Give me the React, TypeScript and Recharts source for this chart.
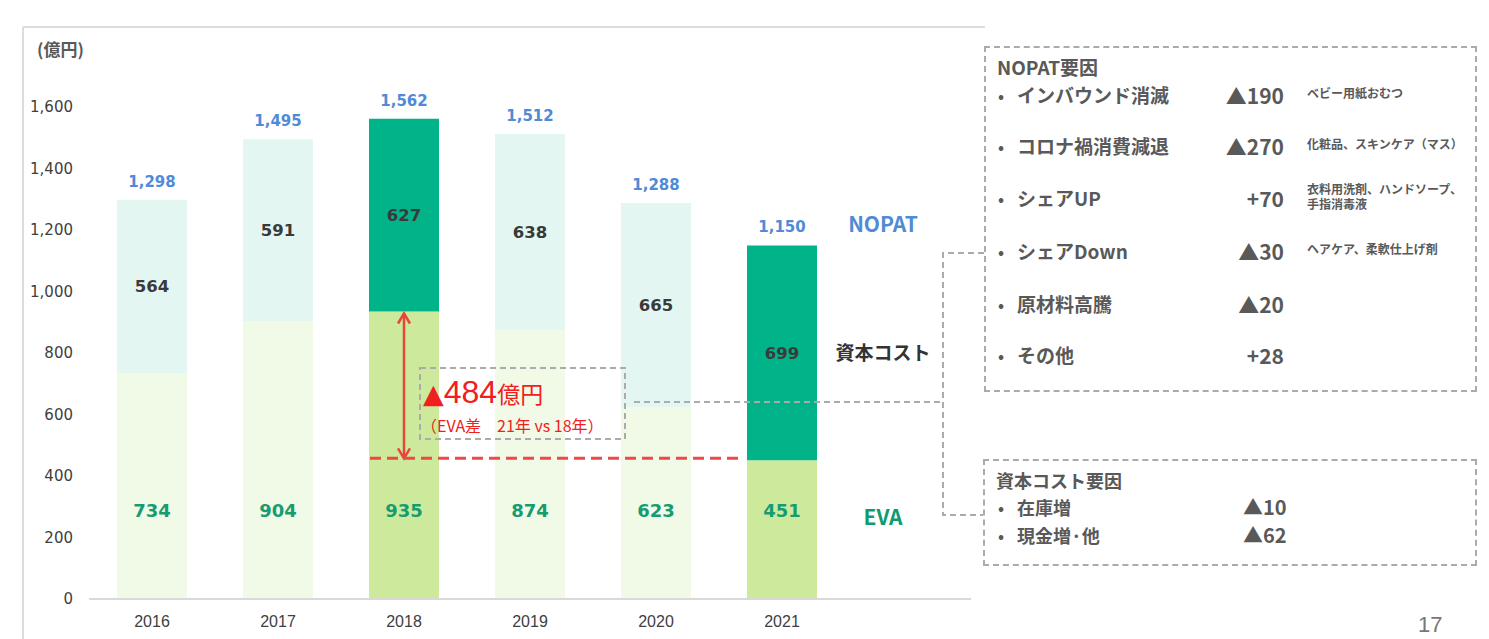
import * as React from 'react';
import { BarChart, Bar, XAxis, YAxis, Cell, LabelList, ReferenceLine } from 'recharts';

const years = ['2016', '2017', '2018', '2019', '2020', '2021'];
const evaValues = [734, 904, 935, 874, 623, 451];
const capitalCostValues = [564, 591, 627, 638, 665, 699];
const nopatValues = [1298, 1495, 1562, 1512, 1288, 1150];
const yTicks = [0, 200, 400, 600, 800, 1000, 1200, 1400, 1600];
const highlightYears = ['2018', '2021'];

const nopatFactors = ['インバウンド消滅', 'コロナ禍消費減退', 'シェアUP', 'シェアDown', '原材料高騰', 'その他'];
const nopatImpacts = ['▲190', '▲270', '+70', '▲30', '▲20', '+28'];
const nopatNotes = [
  ['ベビー用紙おむつ'],
  ['化粧品、スキンケア（マス）'],
  ['衣料用洗剤、ハンドソープ、', '手指消毒液'],
  ['ヘアケア、柔軟仕上げ剤'],
  [],
  [],
];
const capitalFactors = ['在庫増', '現金増·他'];
const capitalImpacts = ['▲10', '▲62'];

const data = years.map((year, i) => ({
  year,
  eva: evaValues[i],
  cost: capitalCostValues[i],
  nopat: nopatValues[i],
}));

const NUM_FONT = '"DejaVu Sans", Verdana, sans-serif';
const JP_FONT = '"Noto Sans CJK JP", "Noto Sans", sans-serif';
const GRAY_TEXT = '#595959';
const DASH = '#ababab';

// double-headed red arrow between the 2018 and 2021 EVA levels
const EvaArrow = (props: any) => {
  const { x1, y1, x2, y2 } = props;
  const c = '#e8453c';
  return (
    <g>
      <line x1={x1} y1={y1 + 2} x2={x2} y2={y2 - 2} stroke={c} strokeWidth={2.5} />
      <polyline points={`${x1 - 6},${y1 + 12} ${x1},${y1 + 2} ${x1 + 6},${y1 + 12}`} fill="none" stroke={c} strokeWidth={2.5} />
      <polyline points={`${x2 - 6},${y2 - 12} ${x2},${y2 - 2} ${x2 + 6},${y2 - 12}`} fill="none" stroke={c} strokeWidth={2.5} />
    </g>
  );
};

// dashed line from the left edge of the 2018 bar to the 2021 bar
const EvaLevel = (props: any) => {
  const { x1, y1, x2, y2 } = props;
  return <line x1={x1 - 34} y1={y1 - 2} x2={x2 - 38} y2={y2 - 2} stroke="#f04848" strokeWidth={3} strokeDasharray="11 6" />;
};

export default function App() {
  return (
    <div style={{ position: 'absolute', left: 0, top: 0, width: 1489, height: 639, overflow: 'hidden', background: '#fff' }}>
      <div style={{ position: 'absolute', left: 0, top: 0 }}>
        <BarChart width={990} height={639} data={data} margin={{ top: 107, right: 19, bottom: 10, left: 29 }}>
          <XAxis
            dataKey="year"
            height={30}
            padding={{ left: 0, right: 126 }}
            axisLine={{ stroke: '#d9d9d9', strokeWidth: 2 }}
            tickLine={false}
            tickMargin={11}
            tick={{ fill: '#404040', fontSize: 16, fontFamily: '"Liberation Sans", Arial, sans-serif' }}
          />
          <YAxis
            width={60}
            domain={[0, 1600]}
            ticks={yTicks}
            axisLine={false}
            tickLine={false}
            tickMargin={10}
            tickFormatter={(v: number) => v.toLocaleString('en-US')}
            tick={{ fill: '#404040', fontSize: 15, fontFamily: NUM_FONT }}
          />
          <Bar dataKey="eva" stackId="a" barSize={70} isAnimationActive={false}>
            {data.map((d) => (
              <Cell key={`eva-${d.year}`} fill={highlightYears.includes(d.year) ? '#cdea9c' : '#f1f9e7'} />
            ))}
            <LabelList
              dataKey="eva"
              position="insideBottom"
              offset={82}
              style={{ fill: '#179c72', fontSize: 18, fontWeight: 'bold', fontFamily: NUM_FONT }}
            />
          </Bar>
          <Bar dataKey="cost" stackId="a" barSize={70} isAnimationActive={false}>
            {data.map((d) => (
              <Cell key={`cost-${d.year}`} fill={highlightYears.includes(d.year) ? '#00b388' : '#e3f6f1'} />
            ))}
            <LabelList
              dataKey="cost"
              position="center"
              style={{ fill: '#3a3a3a', fontSize: 16.5, fontWeight: 'bold', fontFamily: NUM_FONT }}
            />
            <LabelList
              dataKey="nopat"
              position="top"
              offset={13}
              formatter={(v: number) => v.toLocaleString('en-US')}
              style={{ fill: '#4f8bd6', fontSize: 15, fontWeight: 'bold', fontFamily: NUM_FONT }}
            />
          </Bar>
          <ReferenceLine
            segment={[{ x: '2018', y: evaValues[2] }, { x: '2018', y: evaValues[5] }]}
            shape={EvaArrow}
          />
          <ReferenceLine
            segment={[{ x: '2018', y: evaValues[5] }, { x: '2021', y: evaValues[5] }]}
            shape={EvaLevel}
          />
        </BarChart>
      </div>

      {/* frame, annotation box and connectors */}
      <svg width={1489} height={639} style={{ position: 'absolute', left: 0, top: 0, pointerEvents: 'none' }}>
        <line x1={23} y1={27} x2={985} y2={27} stroke="#dcdcdc" strokeWidth={2} />
        <line x1={23} y1={27} x2={23} y2={639} stroke="#dcdcdc" strokeWidth={2} />
        <rect x={420} y={368} width={205} height={71} fill="none" stroke={DASH} strokeWidth={2} strokeDasharray="6 4" />
        <polyline points="634,402 943,402" fill="none" stroke={DASH} strokeWidth={2} strokeDasharray="6 4" />
        <polyline points="984,253 943,253 943,515 983,515" fill="none" stroke={DASH} strokeWidth={2} strokeDasharray="6 4" />
      </svg>

      <div style={{ position: 'absolute', left: 37, top: 36, fontFamily: JP_FONT, fontSize: 17, fontWeight: 'bold', color: GRAY_TEXT }}>
        (億円)
      </div>

      <div style={{ position: 'absolute', left: 423, top: 377, height: 30, color: '#f02020', whiteSpace: 'nowrap', lineHeight: '30px', display: 'flex', alignItems: 'baseline' }}>
        <span style={{ fontSize: 27, lineHeight: '30px', fontFamily: NUM_FONT }}>▲</span>
        <span style={{ fontSize: 32, lineHeight: '30px', fontFamily: '"Liberation Sans", Arial, sans-serif' }}>484</span>
        <span style={{ fontSize: 23, lineHeight: '30px', fontFamily: JP_FONT }}>億円</span>
      </div>
      <div style={{ position: 'absolute', left: 421, top: 416, height: 18, color: '#f02020', fontFamily: JP_FONT, fontSize: 16, whiteSpace: 'nowrap', lineHeight: '18px' }}>
        （EVA差　21年 vs 18年）
      </div>

      <div style={{ position: 'absolute', left: 803, width: 160, top: 209, textAlign: 'center', fontFamily: JP_FONT, fontSize: 21, fontWeight: 'bold', color: '#4f8bd6', lineHeight: '28px' }}>
        NOPAT
      </div>
      <div style={{ position: 'absolute', left: 803, width: 160, top: 338, textAlign: 'center', fontFamily: JP_FONT, fontSize: 19, fontWeight: 'bold', color: '#333', lineHeight: '28px' }}>
        資本コスト
      </div>
      <div style={{ position: 'absolute', left: 803, width: 160, top: 502, textAlign: 'center', fontFamily: JP_FONT, fontSize: 21, fontWeight: 'bold', color: '#109a70', lineHeight: '28px' }}>
        EVA
      </div>

      {/* NOPAT factor box */}
      <div style={{ position: 'absolute', left: 984, top: 46, width: 493, height: 346, boxSizing: 'border-box', border: `2px dashed ${DASH}`, fontFamily: JP_FONT, color: GRAY_TEXT, fontWeight: 'bold' }}>
        <div style={{ position: 'absolute', left: 11, top: 6, fontSize: 19, lineHeight: '26px' }}>NOPAT要因</div>
        {nopatFactors.map((f, i) => {
          const cy = [47, 98, 150, 203, 256, 307][i];
          return (
            <React.Fragment key={f}>
              <div style={{ position: 'absolute', left: 12, top: cy - 13, fontSize: 16, lineHeight: '26px' }}>•</div>
              <div style={{ position: 'absolute', left: 31, top: cy - 13, fontSize: 19, lineHeight: '26px', whiteSpace: 'nowrap' }}>{f}</div>
              <div style={{ position: 'absolute', right: 492 - 301, top: cy - 14, fontSize: 21, lineHeight: '28px', whiteSpace: 'nowrap' }}>{nopatImpacts[i]}</div>
              <div style={{ position: 'absolute', left: 321, top: cy - 10 - (nopatNotes[i].length - 1) * 7, fontSize: 12, lineHeight: '15px', whiteSpace: 'nowrap' }}>
                {nopatNotes[i].map((n) => (
                  <div key={n}>{n}</div>
                ))}
              </div>
            </React.Fragment>
          );
        })}
      </div>

      {/* capital cost factor box */}
      <div style={{ position: 'absolute', left: 983, top: 459, width: 494, height: 107, boxSizing: 'border-box', border: `2px dashed ${DASH}`, fontFamily: JP_FONT, color: GRAY_TEXT, fontWeight: 'bold' }}>
        <div style={{ position: 'absolute', left: 11, top: 7, fontSize: 18, lineHeight: '24px' }}>資本コスト要因</div>
        {capitalFactors.map((f, i) => {
          const cy = [46, 74][i];
          return (
            <React.Fragment key={f}>
              <div style={{ position: 'absolute', left: 13, top: cy - 12, fontSize: 16, lineHeight: '24px' }}>•</div>
              <div style={{ position: 'absolute', left: 32, top: cy - 12, fontSize: 18, lineHeight: '24px', whiteSpace: 'nowrap' }}>{f}</div>
              <div style={{ position: 'absolute', left: 258, top: cy - 13, fontSize: 20, lineHeight: '26px', whiteSpace: 'nowrap' }}>{capitalImpacts[i]}</div>
            </React.Fragment>
          );
        })}
      </div>

      <div style={{ position: 'absolute', left: 1418, top: 613, fontFamily: '"Liberation Sans", Arial, sans-serif', fontSize: 22, lineHeight: '24px', color: '#777' }}>17</div>
    </div>
  );
}
